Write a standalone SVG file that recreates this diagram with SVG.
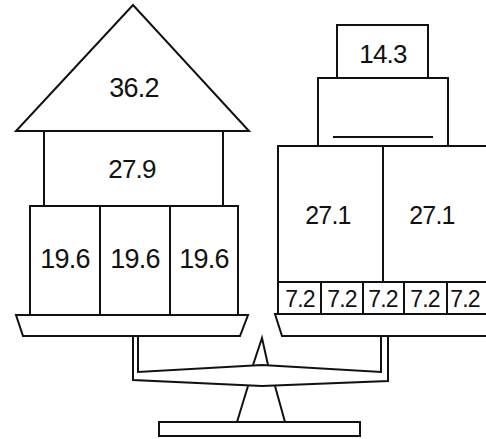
<svg xmlns="http://www.w3.org/2000/svg" width="486" height="439" viewBox="0 0 486 439">
<style>
.s{fill:#fff;stroke:#111;stroke-width:2;stroke-linejoin:miter}
.l{fill:none;stroke:#111;stroke-width:2;stroke-linejoin:miter}
.t{font-family:"Liberation Sans",Arial,sans-serif;fill:#111;text-anchor:middle;letter-spacing:-0.8px}
</style>
<rect width="486" height="439" fill="#fff"/>
<g id="roof"><polygon class="s" points="133,5 16,131 249,131"/><text class="t" x="134" y="97" font-size="27">36.2</text></g>
<g id="box279"><rect class="s" x="44" y="131" width="179" height="75"/><text class="t" x="132" y="178" font-size="26">27.9</text></g>
<g id="box196a"><rect class="s" x="30" y="206" width="70" height="109"/><text class="t" x="65" y="268" font-size="27">19.6</text></g>
<g id="box196b"><rect class="s" x="100" y="206" width="70" height="109"/><text class="t" x="135" y="268" font-size="27">19.6</text></g>
<g id="box196c"><rect class="s" x="170" y="206" width="68" height="109"/><text class="t" x="204" y="268" font-size="27">19.6</text></g>
<g id="leftpan"><polygon class="s" points="16,315 248,315 240,336 23,336"/></g>
<g id="box143"><rect class="s" x="337" y="25" width="91" height="53"/><text class="t" x="383" y="63" font-size="26">14.3</text></g>
<g id="boxblank"><rect class="s" x="318" y="78" width="130" height="68" stroke-width="3"/><line class="l" x1="333" y1="137" x2="433" y2="137"/></g>
<g id="box271a"><rect class="s" x="278" y="146" width="105" height="136"/><text class="t" x="328" y="224" font-size="25">27.1</text></g>
<g id="box271b"><rect class="s" x="383" y="146" width="106" height="136"/><text class="t" x="432" y="224" font-size="25">27.1</text></g>
<g id="box72a"><rect class="s" x="278" y="282" width="43" height="32"/><text class="t" x="300" y="307" font-size="23">7.2</text></g>
<g id="box72b"><rect class="s" x="321" y="282" width="42" height="32"/><text class="t" x="342" y="307" font-size="23">7.2</text></g>
<g id="box72c"><rect class="s" x="363" y="282" width="41" height="32"/><text class="t" x="383" y="307" font-size="23">7.2</text></g>
<g id="box72d"><rect class="s" x="404" y="282" width="43" height="32"/><text class="t" x="425" y="307" font-size="23">7.2</text></g>
<g id="box72e"><rect class="s" x="447" y="282" width="42" height="32"/><text class="t" x="465" y="307" font-size="23">7.2</text></g>
<g id="rightpan"><polygon class="s" points="275,314 489,314 489,336 282,336"/></g>
<g id="connectors">
<polyline class="l" points="138,336 138,372 262,365 381,372 381,336"/>
<polyline class="l" points="133,336 133,380 262,386 388,381 388,336"/>
<polyline class="l" points="253,365 262,338 268,365"/>
<line class="l" x1="248" y1="386" x2="237" y2="422"/>
<line class="l" x1="275" y1="386" x2="285" y2="422"/>
</g>
<g id="base"><rect class="s" x="159" y="422" width="201" height="14"/></g>
</svg>
